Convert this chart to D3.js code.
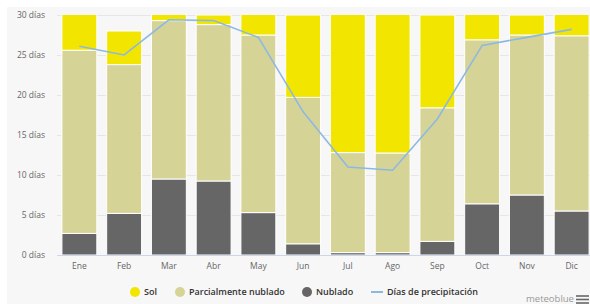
<!DOCTYPE html>
<html lang="es">
<head>
  <meta charset="UTF-8" />
  <script src="https://d3js.org/d3.v7.min.js"></script>
  <style>
    html, body { margin: 0; padding: 0; background: #fff; }
    svg { display: block; font-family: "Open Sans", sans-serif; }
  </style>
</head>
<body>
  <div id="chart"></div>

  <script>
    // data
    const months = ["Ene", "Feb", "Mar", "Abr", "May", "Jun", "Jul", "Ago", "Sep", "Oct", "Nov", "Dic"];
    const nublado = [2.7, 5.2, 9.5, 9.25, 5.3, 1.4, 0.3, 0.3, 1.7, 6.4, 7.5, 5.5];
    const parcial = [22.9, 18.6, 19.8, 19.55, 22.2, 18.3, 12.5, 12.45, 16.7, 20.5, 20.0, 21.9];
    const sol = [5.4, 4.2, 1.7, 1.2, 3.5, 10.3, 18.2, 18.25, 11.6, 4.1, 2.5, 3.6];
    const precipitacion = [26.1, 25.0, 29.4, 29.3, 27.2, 17.9, 11.0, 10.6, 17.0, 26.2, 27.2, 28.2];
    const yTicks = [0, 5, 10, 15, 20, 25, 30];

    const W = 590, H = 304;
    const plot = { left: 57, right: 594, top: 15, bottom: 255 };
    const colors = { sol: "#f2e600", parcial: "#d6d396", nublado: "#666666", line: "#8cb9e3" };

    const svg = d3.select("#chart").append("svg").attr("width", W).attr("height", H);

    // chart background
    svg.append("rect").attr("x", 7).attr("y", 7).attr("width", W - 7).attr("height", H - 7)
      .attr("fill", "#f7f7f7");

    const x = d3.scaleBand().domain(months).range([plot.left, plot.right])
      .paddingInner(0.22).paddingOuter(0.11);
    const y = d3.scaleLinear().domain([0, 30]).range([plot.bottom, plot.top]);

    // gridlines + y labels
    const yAxis = svg.append("g").attr("transform", `translate(${plot.left},0)`)
      .call(d3.axisLeft(y).tickValues(yTicks).tickSize(-(plot.right - plot.left))
        .tickFormat(d => d + " días"));
    yAxis.select(".domain").remove();
    yAxis.selectAll(".tick line").attr("stroke", "#e6e6e6");
    yAxis.selectAll(".tick text").attr("x", -12).attr("fill", "#666")
      .attr("font-size", 8.5).attr("font-family", "Open Sans");

    svg.append("clipPath").attr("id", "plotclip").append("rect")
      .attr("x", plot.left).attr("y", plot.top)
      .attr("width", plot.right - plot.left).attr("height", plot.bottom - plot.top);

    const rows = months.map((m, i) => ({ month: m, nublado: nublado[i], parcial: parcial[i], sol: sol[i] }));
    const series = d3.stack().keys(["nublado", "parcial", "sol"])(rows);

    svg.append("g").attr("clip-path", "url(#plotclip)")
      .selectAll("g").data(series).join("g")
      .attr("fill", d => colors[d.key])
      .selectAll("rect").data(d => d).join("rect")
      .attr("x", d => x(d.data.month))
      .attr("y", d => y(d[1]))
      .attr("width", x.bandwidth())
      .attr("height", d => y(d[0]) - y(d[1]))
      .attr("stroke", "#fff").attr("stroke-width", 1);

    // x axis
    const xAxis = svg.append("g").attr("transform", `translate(0,${plot.bottom})`)
      .call(d3.axisBottom(x).tickSize(0).tickPadding(8));
    xAxis.select(".domain").attr("stroke", "#ccd6eb");
    xAxis.selectAll(".tick text").attr("fill", "#666")
      .attr("font-size", 8.5).attr("font-family", "Open Sans");

    // precipitation days line
    const line = d3.line()
      .x((d, i) => x(months[i]) + x.bandwidth() / 2)
      .y(d => y(d));
    svg.append("path").datum(precipitacion)
      .attr("fill", "none").attr("stroke", colors.line).attr("stroke-width", 1.6)
      .attr("d", line);

    // legend
    const legendItems = [
      { name: "Sol", color: colors.sol, type: "dot", x: 135 },
      { name: "Parcialmente nublado", color: colors.parcial, type: "dot", x: 180 },
      { name: "Nublado", color: colors.nublado, type: "dot", x: 307 },
      { name: "Días de precipitación", color: colors.line, type: "line", x: 376 }
    ];
    const legend = svg.append("g");
    const li = legend.selectAll("g").data(legendItems).join("g")
      .attr("transform", d => `translate(${d.x},292)`);
    li.filter(d => d.type === "dot").append("circle")
      .attr("r", 5).attr("fill", d => d.color);
    li.filter(d => d.type === "line").append("line")
      .attr("x1", -5).attr("x2", 7).attr("stroke", d => d.color).attr("stroke-width", 2);
    li.append("text")
      .attr("x", d => d.type === "dot" ? 9 : 11).attr("dy", "0.35em")
      .attr("font-size", 9).attr("font-weight", 600).attr("fill", "#333")
      .attr("font-family", "Open Sans")
      .text(d => d.name);

    // credit + menu icon
    svg.append("text").attr("x", 526).attr("y", 302).attr("font-size", 9.5)
      .attr("fill", "#999").text("meteoblue");
    svg.append("g").selectAll("line").data([296, 299.5, 303]).join("line")
      .attr("x1", 576).attr("x2", 589).attr("y1", d => d).attr("y2", d => d)
      .attr("stroke", "#666").attr("stroke-width", 1.6);
  </script>
</body>
</html>
